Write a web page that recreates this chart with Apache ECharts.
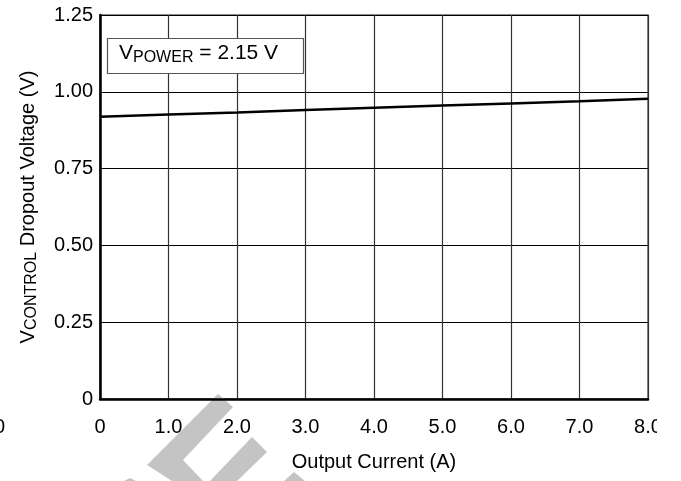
<!DOCTYPE html>
<html>
<head>
<meta charset="utf-8">
<script src="https://cdn.jsdelivr.net/npm/echarts@6/dist/echarts.min.js"></script>
<style>
html,body{margin:0;padding:0;background:#fff;}
#chart{width:681px;height:481px;}
</style>
</head>
<body>
<div id="chart"></div>
<script>
// Data
var currentA = [0, 1, 2, 3, 4, 5, 6, 7, 8];
var dropoutV = [0.919, 0.926, 0.933, 0.941, 0.948, 0.955, 0.962, 0.969, 0.977];
var xTicks = [0, 1, 2, 3, 4, 5, 6, 7, 8];
var yTicks = [0, 0.25, 0.5, 0.75, 1.0, 1.25];

var FONT = 'Liberation Sans, Arial, Helvetica, sans-serif';
var chart = echarts.init(document.getElementById('chart'), null, {renderer: 'canvas'});

var lineData = currentA.map(function (x, i) { return [x, dropoutV[i]]; });

var option = {
  backgroundColor: '#ffffff',
  animation: false,
  grid: {
    left: 100, right: 33, top: 15, bottom: 82,
    show: true, borderColor: '#666666', borderWidth: 1.5, backgroundColor: 'transparent'
  },
  xAxis: {
    type: 'value', min: xTicks[0], max: xTicks[xTicks.length - 1], interval: 1,
    name: 'Output Current (A)', nameLocation: 'middle', nameGap: 53,
    nameTextStyle: {fontFamily: FONT, fontSize: 20, color: '#000'},
    axisLine: {show: true, lineStyle: {color: '#000', width: 2.5}},
    axisTick: {show: false},
    axisLabel: {
      fontFamily: FONT, fontSize: 20, color: '#000', margin: 18,
      formatter: function (v) { return v === 0 ? '0' : v.toFixed(1); }
    },
    splitLine: {show: true, lineStyle: {color: '#333', width: 1.2}}
  },
  yAxis: {
    type: 'value', min: yTicks[0], max: yTicks[yTicks.length - 1], interval: 0.25,
    name: '{v|V}{s|CONTROL}{v| Dropout Voltage (V)}',
    nameLocation: 'middle', nameGap: 60, nameRotate: 90,
    nameTextStyle: {
      fontFamily: FONT, color: '#000',
      rich: {
        v: {fontFamily: FONT, fontSize: 20, color: '#000'},
        s: {fontFamily: FONT, fontSize: 16, color: '#000', verticalAlign: 'bottom', padding: [7, 0, 0, 0]}
      }
    },
    axisLine: {show: true, lineStyle: {color: '#000', width: 2.5}},
    axisTick: {show: false},
    axisLabel: {
      fontFamily: FONT, fontSize: 20, color: '#000', margin: 7,
      formatter: function (v) { return v === 0 ? '0' : v.toFixed(2); }
    },
    splitLine: {show: true, lineStyle: {color: '#000', width: 1}}
  },
  series: [{
    type: 'line',
    data: lineData,
    showSymbol: false,
    lineStyle: {color: '#000', width: 2.5},
    z: 5
  }],
  graphic: [
    // watermark shapes
    {type: 'polygon', z: 0, silent: true,
     shape: {points: [[218,394],[233,407],[183,460],[203,481],[172,481],[147,465]]},
     style: {fill: '#c4c4c4'}},
    {type: 'polygon', z: 0, silent: true,
     shape: {points: [[252,437],[267,452],[237,481],[210,481]]},
     style: {fill: '#c4c4c4'}},
    {type: 'polygon', z: 0, silent: true,
     shape: {points: [[130,478],[136,481],[124,481]]},
     style: {fill: '#c4c4c4'}},
    {type: 'polygon', z: 0, silent: true,
     shape: {points: [[294,472],[305,481],[284,481]]},
     style: {fill: '#c4c4c4'}},
    // legend box
    {type: 'rect', z: 10,
     shape: {x: 107.5, y: 38.5, width: 196, height: 35},
     style: {fill: '#fff', stroke: '#555', lineWidth: 1.2}},
    {type: 'text', z: 11, left: 119, top: 43,
     style: {
       text: '{v|V}{s|POWER}{v| = 2.15 V}',
       rich: {
         v: {fontFamily: FONT, fontSize: 21, fill: '#000'},
         s: {fontFamily: FONT, fontSize: 16, fill: '#000', verticalAlign: 'bottom', padding: [8, 0, 0, 0]}
       }
     }},
    // partial stray label at the left edge
    {type: 'text', z: 11, left: -6, top: 417,
     style: {text: '0', fontFamily: FONT, fontSize: 20, fill: '#000'}},
    // cropped right edge
    {type: 'rect', z: 100, silent: true,
     shape: {x: 657, y: 405, width: 30, height: 76},
     style: {fill: '#fff'}}
  ]
};
chart.setOption(option);
</script>
</body>
</html>
